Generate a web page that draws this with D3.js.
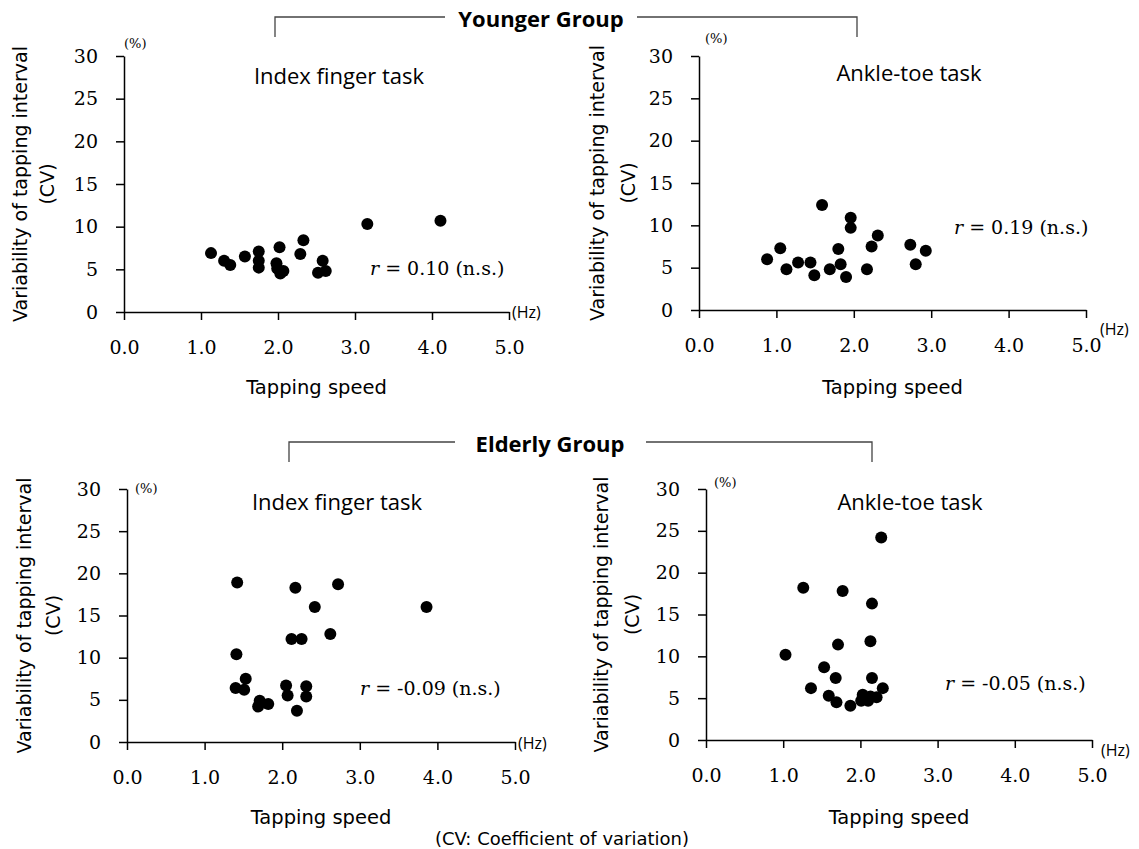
<!DOCTYPE html>
<html>
<head>
<meta charset="utf-8">
<script src="https://cdn.jsdelivr.net/npm/d3@7"></script>
<style>
  body { margin: 0; background: #fff; }
  svg { display: block; }
</style>
</head>
<body>
<svg id="chart" width="1139" height="849"></svg>
<script>
// ── Data (tapping speed in Hz, CV in %) ──────────────────────────
const xTicks = [0, 1, 2, 3, 4, 5];
const yTicks = [0, 5, 10, 15, 20, 25, 30];

const youngFingerSpeed = [1.13, 1.30, 1.38, 1.57, 1.75, 1.75, 1.75, 2.02, 1.98, 1.99, 2.03, 2.07, 2.33, 2.29, 2.58, 2.52, 2.62, 3.16, 4.11];
const youngFingerCV    = [6.9, 6.0, 5.5, 6.5, 7.1, 6.0, 5.2, 7.6, 5.7, 5.1, 4.5, 4.8, 8.4, 6.8, 6.0, 4.6, 4.8, 10.3, 10.7];

const youngAnkleSpeed = [0.88, 1.05, 1.13, 1.28, 1.44, 1.49, 1.59, 1.69, 1.80, 1.83, 1.90, 1.96, 1.96, 2.17, 2.23, 2.31, 2.73, 2.80, 2.93];
const youngAnkleCV    = [6.0, 7.3, 4.8, 5.6, 5.6, 4.1, 12.4, 4.8, 7.2, 5.4, 3.9, 10.9, 9.7, 4.8, 7.5, 8.8, 7.7, 5.4, 7.0];

const elderFingerSpeed = [1.42, 2.17, 2.72, 2.42, 3.86, 2.12, 2.25, 2.62, 1.41, 1.53, 1.40, 1.51, 2.05, 2.07, 2.31, 2.31, 1.71, 1.69, 1.82, 2.19];
const elderFingerCV    = [18.9, 18.3, 18.7, 16.0, 16.0, 12.2, 12.2, 12.8, 10.4, 7.5, 6.4, 6.2, 6.7, 5.5, 6.6, 5.4, 4.9, 4.2, 4.5, 3.7];

const elderAnkleSpeed = [2.27, 1.26, 1.77, 2.15, 2.13, 1.71, 1.03, 1.53, 1.68, 2.15, 1.36, 2.29, 1.59, 1.69, 1.87, 2.03, 2.01, 2.10, 2.13, 2.21];
const elderAnkleCV    = [24.2, 18.2, 17.8, 16.3, 11.8, 11.4, 10.2, 8.7, 7.4, 7.4, 6.2, 6.2, 5.3, 4.5, 4.1, 5.4, 4.7, 4.7, 5.2, 5.1];

const rLabels = ["0.10", "0.19", "-0.09", "-0.05"];

// ── Layout ───────────────────────────────────────────────────────
const panels = [
  { title: "Index finger task", speed: youngFingerSpeed, cv: youngFingerCV, r: rLabels[0],
    x0: 124, x1: 509, yTop: 56, yBot: 312, labX: 20, cvX: 47,
    titleX: 339, titleY: 76, rX: 370, rY: 268, pctX: 124, pctY: 43, hzX: 512, hzY: 312, speedY: 387 },
  { title: "Ankle-toe task", speed: youngAnkleSpeed, cv: youngAnkleCV, r: rLabels[1],
    x0: 699, x1: 1086, yTop: 56, yBot: 310, labX: 597, cvX: 628,
    titleX: 909, titleY: 73, rX: 954, rY: 227, pctX: 705, pctY: 38, hzX: 1100, hzY: 329, speedY: 387 },
  { title: "Index finger task", speed: elderFingerSpeed, cv: elderFingerCV, r: rLabels[2],
    x0: 127, x1: 515, yTop: 489, yBot: 742, labX: 24, cvX: 53,
    titleX: 337, titleY: 502, rX: 360, rY: 688, pctX: 135, pctY: 488, hzX: 518, hzY: 743, speedY: 817 },
  { title: "Ankle-toe task", speed: elderAnkleSpeed, cv: elderAnkleCV, r: rLabels[3],
    x0: 706, x1: 1092, yTop: 489, yBot: 740, labX: 601, cvX: 632,
    titleX: 910, titleY: 502, rX: 945, rY: 683, pctX: 714, pctY: 482, hzX: 1101, hzY: 750, speedY: 817 }
];

const svg = d3.select("#chart");
const SANS = "'DejaVu Sans', sans-serif";
const SERIF = "'DejaVu Serif', serif";
const CAL = "'Open Sans', sans-serif";

function styleAxis(sel) {
  sel.selectAll(".domain, .tick line").attr("stroke", "#000").attr("stroke-width", 1.5);
  sel.selectAll(".tick text")
    .attr("fill", "#000")
    .style("font-family", SERIF)
    .style("font-size", "19px");
}

panels.forEach(p => {
  const x = d3.scaleLinear().domain([0, 5]).range([p.x0, p.x1]);
  const y = d3.scaleLinear().domain([0, 30]).range([p.yBot, p.yTop]);
  const g = svg.append("g");

  g.append("g")
    .attr("transform", `translate(0,${p.yBot})`)
    .call(d3.axisBottom(x).tickValues(xTicks).tickFormat(d3.format(".1f"))
      .tickSize(8).tickSizeOuter(0).tickPadding(21))
    .call(styleAxis);

  g.append("g")
    .attr("transform", `translate(${p.x0},0)`)
    .call(d3.axisLeft(y).tickValues(yTicks).tickSize(8).tickSizeOuter(0).tickPadding(18))
    .call(styleAxis);

  g.selectAll("circle.pt")
    .data(d3.zip(p.speed, p.cv))
    .join("circle")
    .attr("class", "pt")
    .attr("cx", d => x(d[0]))
    .attr("cy", d => y(d[1]))
    .attr("r", 6)
    .attr("fill", "#000");

  g.append("text")
    .attr("x", p.titleX).attr("y", p.titleY).attr("dy", "0.35em")
    .attr("text-anchor", "middle")
    .style("font-family", CAL).style("font-size", "22px")
    .text(p.title);

  const rt = g.append("text")
    .attr("x", p.rX).attr("y", p.rY).attr("dy", "0.35em")
    .style("font-family", SERIF).style("font-size", "19px");
  rt.append("tspan").style("font-style", "italic").text("r");
  rt.append("tspan").text(` = ${p.r} (n.s.)`);

  g.append("text")
    .attr("x", p.pctX).attr("y", p.pctY).attr("dy", "0.35em")
    .style("font-family", SERIF).style("font-size", "13px")
    .text("(%)");

  g.append("text")
    .attr("x", p.hzX).attr("y", p.hzY).attr("dy", "0.35em")
    .style("font-family", CAL).style("font-size", "16px")
    .text("(Hz)");

  g.append("text")
    .attr("x", (p.x0 + p.x1) / 2).attr("y", p.speedY).attr("dy", "0.35em")
    .attr("text-anchor", "middle")
    .style("font-family", SANS).style("font-size", "19.5px")
    .text("Tapping speed");

  const cy = (p.yTop + p.yBot) / 2;
  g.append("text")
    .attr("transform", `translate(${p.labX},${cy}) rotate(-90)`)
    .attr("dy", "0.35em").attr("text-anchor", "middle")
    .style("font-family", SANS).style("font-size", "19px")
    .text("Variability of tapping interval");
  g.append("text")
    .attr("transform", `translate(${p.cvX},${cy}) rotate(-90)`)
    .attr("dy", "0.35em").attr("text-anchor", "middle")
    .style("font-family", SANS).style("font-size", "19px")
    .text("(CV)");
});

// ── Group brackets ───────────────────────────────────────────────
const groups = [
  { name: "Younger Group", cx: 541, y: 17, l0: 275, l1: 445, r0: 637, r1: 857, drop: 20 },
  { name: "Elderly Group", cx: 550, y: 442, l0: 289, l1: 455, r0: 646, r1: 872, drop: 20 }
];

groups.forEach(gr => {
  svg.append("path")
    .attr("d", `M${gr.l0},${gr.y + gr.drop}V${gr.y}H${gr.l1}M${gr.r0},${gr.y}H${gr.r1}V${gr.y + gr.drop}`)
    .attr("fill", "none").attr("stroke", "#444").attr("stroke-width", 1.3);
  svg.append("text")
    .attr("x", gr.cx).attr("y", gr.y + 2).attr("dy", "0.35em")
    .attr("text-anchor", "middle")
    .style("font-family", CAL).style("font-size", "22px").style("font-weight", "bold")
    .text(gr.name);
});

svg.append("text")
  .attr("x", 562).attr("y", 839).attr("dy", "0.35em")
  .attr("text-anchor", "middle")
  .style("font-family", SANS).style("font-size", "18px")
  .text("(CV: Coefficient of variation)");
</script>
</body>
</html>
